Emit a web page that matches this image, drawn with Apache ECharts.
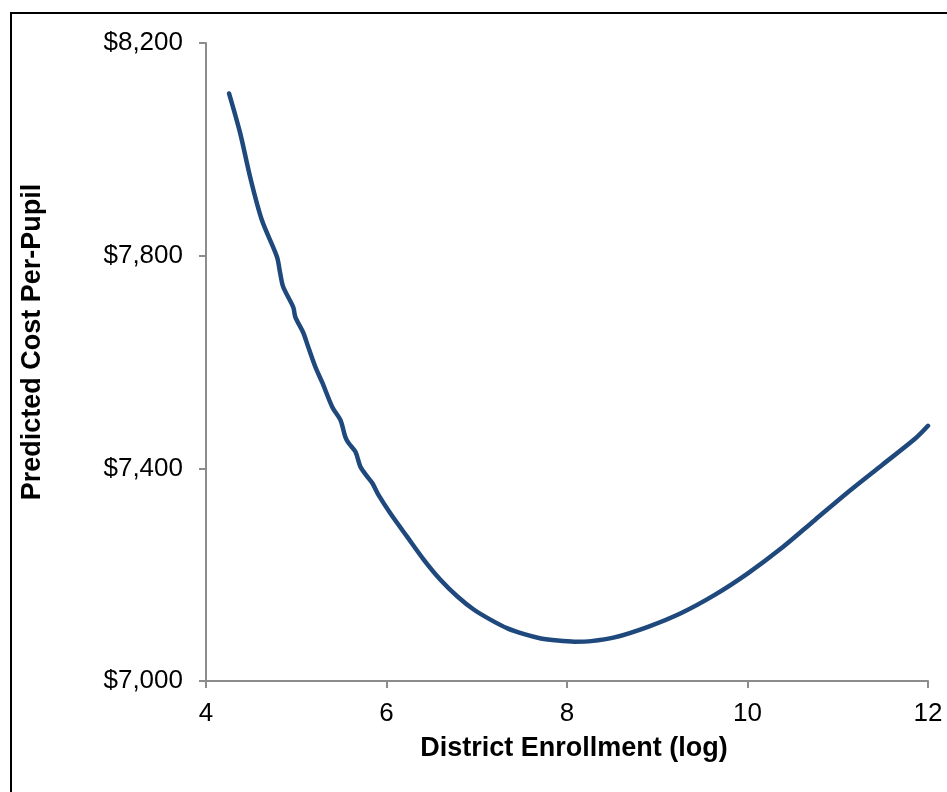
<!DOCTYPE html>
<html>
<head>
<meta charset="utf-8">
<script src="https://cdn.jsdelivr.net/npm/echarts@6/dist/echarts.min.js"></script>
<style>
html,body{margin:0;padding:0;background:#fff;}
#chart{width:947px;height:792px;}
</style>
</head>
<body>
<div id="chart"></div>
<script>
// District enrollment (log)
var enrollLog = [4.256,4.378,4.489,4.619,4.786,4.822,4.856,4.967,4.989,5.078,5.133,5.211,5.289,5.4,5.489,5.544,5.578,5.656,5.711,5.789,5.844,5.911,6.044,6.23,6.414,6.6,6.786,6.97,7.156,7.341,7.526,7.711,7.897,8.081,8.267,8.526,8.897,9.267,9.637,10.008,10.378,10.748,11.119,11.489,11.859,12.0];
// Predicted cost per pupil ($)
var costPerPupil = [8105,8031,7948,7867,7798,7767,7741,7703,7685,7655,7628,7591,7561,7515,7491,7459,7448,7431,7403,7384,7372,7350,7315,7271,7228,7190,7159,7134,7115,7099,7088,7080,7076,7074,7075,7082,7102,7128,7162,7203,7250,7303,7356,7406,7456,7480];
var xTicks = [4,6,8,10,12];
var yTicks = [7000,7400,7800,8200];
var xTitle = 'District Enrollment (log)';
var yTitle = 'Predicted Cost Per-Pupil';

var pts = enrollLog.map(function(x,i){return [x,costPerPupil[i]];});
var chart = echarts.init(document.getElementById('chart'));
var font = 'Liberation Sans, Arial, sans-serif';
var axisGray = '#8c8c8c';
chart.setOption({
  animation:false,
  backgroundColor:'#fff',
  graphic:[
    {type:'rect',shape:{x:11,y:13,width:960,height:820},style:{fill:null,stroke:'#000',lineWidth:2},z:-1},
    {type:'text',x:574,y:749,style:{text:xTitle,font:'bold 27px Liberation Sans, Arial, sans-serif',fill:'#000',textAlign:'center',textVerticalAlign:'middle'}},
    {type:'text',x:33,y:342,rotation:Math.PI/2,style:{text:yTitle,font:'bold 27px Liberation Sans, Arial, sans-serif',fill:'#000',textAlign:'center',textVerticalAlign:'middle'}}
  ],
  grid:{left:206,top:43,right:19,bottom:111,containLabel:false},
  xAxis:{
    type:'value',min:xTicks[0],max:xTicks[xTicks.length-1],interval:2,
    axisLine:{show:true,lineStyle:{color:axisGray,width:2}},
    axisTick:{show:true,inside:false,length:7,lineStyle:{color:axisGray,width:2}},
    axisLabel:{fontFamily:font,fontSize:26,color:'#000',margin:20},
    splitLine:{show:false}
  },
  yAxis:{
    type:'value',min:yTicks[0],max:yTicks[yTicks.length-1],interval:400,
    axisLine:{show:true,lineStyle:{color:axisGray,width:2}},
    axisTick:{show:true,inside:false,length:7,lineStyle:{color:axisGray,width:2}},
    axisLabel:{fontFamily:font,fontSize:26,color:'#000',margin:23,
      formatter:function(v){return '$'+v.toLocaleString('en-US');}},
    splitLine:{show:false}
  },
  series:[{
    type:'line',data:pts,showSymbol:false,smooth:0.3,clip:true,
    lineStyle:{color:'#1F497D',width:4.5,cap:'round'}
  }]
});
</script>
</body>
</html>
